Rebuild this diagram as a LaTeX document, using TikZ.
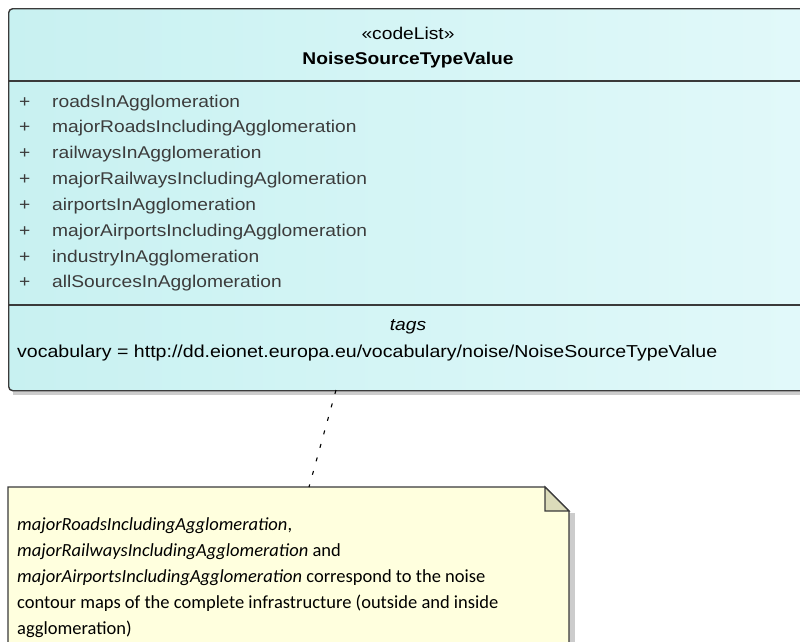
\documentclass[tikz,border=0pt]{standalone}
\usepackage{fontspec}
\setmainfont{Liberation Sans}[FakeStretch=1.13]
\newfontfamily\notefont{Carlito}
\usetikzlibrary{calc}
\definecolor{clsA}{HTML}{C8F1F1}
\definecolor{clsB}{HTML}{E2F9FA}
\definecolor{clsborder}{HTML}{3A3A3A}
\definecolor{attrtext}{HTML}{3C3C3C}
\definecolor{notefill}{HTML}{FFFFDE}
\definecolor{foldfill}{HTML}{DCDCBA}
\definecolor{shadowc}{HTML}{9A9A9A}
\tikzset{
  clsfont/.style={font=\fontsize{17}{20}\selectfont},
  attr/.style={clsfont, anchor=base west, text=attrtext, inner sep=0pt},
  notetext/.style={font=\notefont\fontsize{18.5}{21}\selectfont, anchor=base west, text=black, inner sep=0pt},
  boxline/.style={draw=clsborder, line width=1.4pt},
  connector/.style={draw=black, line width=1.1pt, dash pattern=on 4pt off 10pt},
}
\begin{document}
\begin{tikzpicture}[x=1pt,y=-1pt]
\clip (0,0) rectangle (800,641);
\fill[white] (0,0) rectangle (800,641);
% class box shadow
\fill[shadowc, opacity=0.5] (13,14) rectangle (820,395);
% class box
\node[boxline, rounded corners=4pt, left color=clsA, right color=clsB, minimum width=812pt, minimum height=382pt, inner sep=0pt, anchor=north west] (cls) at (8,8) {};
\draw[boxline] (8,81) -- (820,81);
\draw[boxline] (8,305) -- (820,305);
% header
\node[clsfont, anchor=base, inner sep=0pt] (stereo) at (408,39) {«codeList»};
\node[clsfont, anchor=base, inner sep=0pt, font=\fontsize{17}{20}\selectfont\bfseries] (cname) at (408,64) {NoiseSourceTypeValue};
% attributes
\foreach \i/\t in {0/roadsInAgglomeration,1/majorRoadsIncludingAgglomeration,2/railwaysInAgglomeration,3/majorRailwaysIncludingAglomeration,4/airportsInAgglomeration,5/majorAirportsIncludingAgglomeration,6/industryInAgglomeration,7/allSourcesInAgglomeration}{
  \node[attr] (plus\i) at (19,107+25.85*\i) {+};
  \node[attr] (attr\i) at (52,107+25.85*\i) {\t};
}
% tags
\node[clsfont, anchor=base, inner sep=0pt, font=\fontsize{17}{20}\selectfont\itshape] (tags) at (408,330) {tags};
\node[anchor=base west, inner sep=0pt, font=\fontsize{17.3}{20}\selectfont] (vocab) at (17,357) {vocabulary = http://dd.eionet.europa.eu/vocabulary/noise/NoiseSourceTypeValue};
% note shadow
\fill[shadowc, opacity=0.5] (569,513) rectangle (575,660);
% note
\draw[line width=1.3pt, draw=clsborder, fill=notefill] (8,660) -- (8,487) -- (545,487) -- (569,511) -- (569,660);
\draw[line width=1.1pt, draw=clsborder, fill=foldfill, line join=miter] (545,487) -- (545,511) -- (569,511) -- cycle;
\node[inner sep=0pt, minimum width=561pt, minimum height=173pt, anchor=north west] (note) at (8,487) {};
\node[notetext] (n1) at (17,530) {\itshape majorRoadsIncludingAgglomeration\upshape,};
\node[notetext] (n2) at (17,556) {\itshape majorRailwaysIncludingAgglomeration\upshape{} and};
\node[notetext] (n3) at (17,582) {\itshape majorAirportsIncludingAgglomeration\upshape{} correspond to the noise};
\node[notetext] (n4) at (17,608) {contour maps of the complete infrastructure (outside and inside};
\node[notetext] (n5) at (17,634) {agglomeration)};
% connector
\coordinate (cA) at ($(cls.north west)+(328,382)$);
\coordinate (cB) at ($(note.north west)+(301,0)$);
\draw[connector] (cA) -- (cB);
\end{tikzpicture}
\end{document}
